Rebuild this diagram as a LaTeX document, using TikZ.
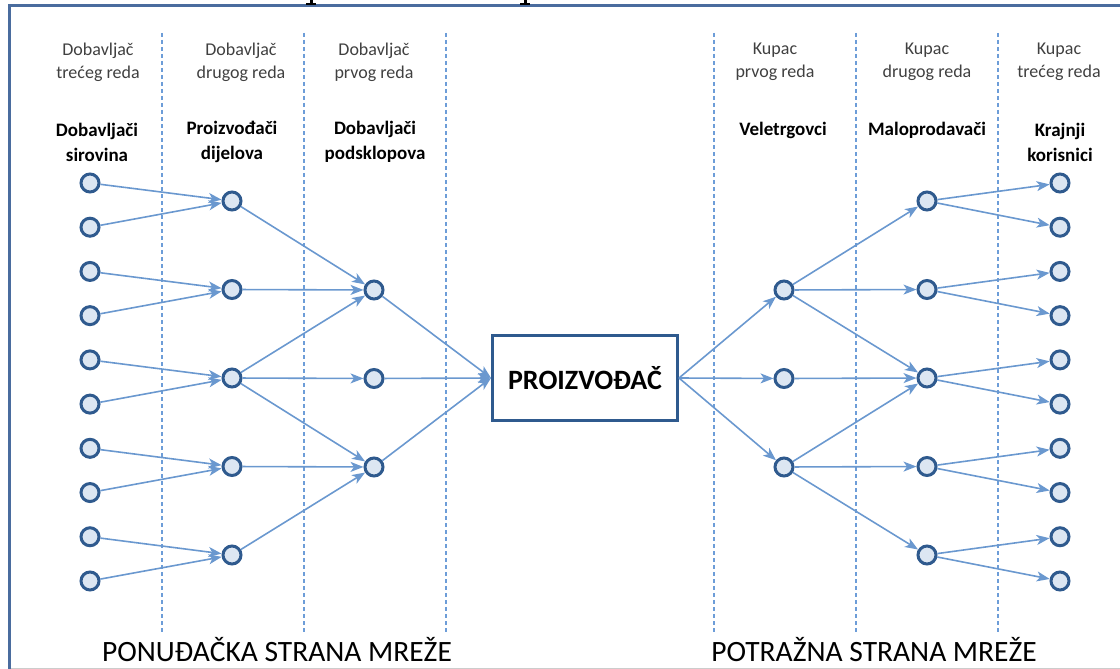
\documentclass[tikz,border=0pt]{standalone}
\usepackage{fontspec}
\setmainfont{Carlito}
\usetikzlibrary{arrows.meta}
\definecolor{nodeline}{HTML}{2F5A8E}
\definecolor{nodefill}{HTML}{DCE6F2}
\definecolor{arrowc}{HTML}{6A98CF}
\definecolor{dashc}{HTML}{6D9DD8}
\definecolor{framec}{HTML}{4A6C9E}
\definecolor{hdrc}{HTML}{404040}
\begin{document}
\begin{tikzpicture}[x=1pt,y=-1pt,
  dot/.style={circle,draw=nodeline,fill=nodefill,line width=3pt,minimum size=18pt,inner sep=0pt},
  link/.style={draw=arrowc,line width=1.6pt,-{Stealth[length=13pt,width=10pt,inset=3.5pt]}},
  sepline/.style={draw=dashc,line width=1.3pt,dash pattern=on 4pt off 3pt},
  hdr/.style={align=center,font=\fontsize{18}{23}\selectfont,text=hdrc,inner sep=0pt},
  lbl/.style={align=center,font=\fontsize{19}{25}\selectfont\bfseries,inner sep=0pt},
  side/.style={font=\fontsize{29.5}{30}\selectfont,anchor=base,inner sep=0pt,text depth=0pt},
  prod/.style={draw=nodeline,line width=3pt,fill=white,minimum width=185pt,minimum height=85pt,inner sep=0pt,font=\fontsize{28}{28}\selectfont\bfseries}
]
\useasboundingbox (0,0) rectangle (1120,669);
% frame
\draw[framec,line width=3pt] (9.5,669) -- (9.5,6) -- (1125,6);
\draw[black!20,line width=0.8pt] (11,668.5) -- (1120,668.5);
% title remnants
\fill[black] (309.8,0) rectangle (312.6,4);
\fill[black] (306,3) rectangle (316,4.6);
\fill[black] (523.8,0) rectangle (526.6,4);
\fill[black] (520,3) rectangle (530,4.6);
% separators
\foreach \xx in {162,304,446,714,856,998}
  \draw[sepline] (\xx,33) -- (\xx,633);
% headers
\node[hdr] (h1) at (98,62) {Dobavljač\\trećeg reda};
\node[hdr] (h2) at (241,62) {Dobavljač\\drugog reda};
\node[hdr] (h3) at (374,62) {Dobavljač\\prvog reda};
\node[hdr] (h4) at (775,62) {Kupac\\prvog reda};
\node[hdr] (h5) at (927,62) {Kupac\\drugog reda};
\node[hdr] (h6) at (1059,62) {Kupac\\trećeg reda};
\node[lbl] (l1) at (97,142) {Dobavljači\\sirovina};
\node[lbl] (l2) at (232,142) {Proizvođači\\dijelova};
\node[lbl] (l3) at (375,142) {Dobavljači\\podsklopova};
\node[lbl] (l4) at (783,130) {Veletrgovci};
\node[lbl] (l5) at (927,130) {Maloprodavači};
\node[lbl] (l6) at (1060,142) {Krajnji\\korisnici};
% nodes
\foreach \i in {1,...,10} {
  \node[dot] (a\i) at (90,{183+(\i-1)*44.22}) {};
  \node[dot] (f\i) at (1060,{183+(\i-1)*44.22}) {};
}
\foreach \i in {1,...,5} {
  \node[dot] (b\i) at (232,{201+(\i-1)*88.5}) {};
  \node[dot] (e\i) at (927,{201+(\i-1)*88.5}) {};
}
\foreach \i in {1,2,3} {
  \node[dot] (c\i) at (374,{290+(\i-1)*88.5}) {};
  \node[dot] (d\i) at (784,{290+(\i-1)*88.5}) {};
}
\node[prod] (p) at (585,378) {PROIZVOĐAČ};
% left links
\foreach \i [evaluate=\i as \j using {int(ceil(\i/2))}] in {1,...,10}
  \draw[link] (a\i) -- (b\j);
\draw[link] (b1) -- (c1);
\draw[link] (b2) -- (c1);
\draw[link] (b3) -- (c1);
\draw[link] (b3) -- (c2);
\draw[link] (b3) -- (c3);
\draw[link] (b4) -- (c3);
\draw[link] (b5) -- (c3);
\foreach \i in {1,2,3} {
  \draw[link] (c\i) -- (p.west);
  \draw[link] (p.east) -- (d\i);
}
% right links
\draw[link] (d1) -- (e1);
\draw[link] (d1) -- (e2);
\draw[link] (d1) -- (e3);
\draw[link] (d2) -- (e3);
\draw[link] (d3) -- (e3);
\draw[link] (d3) -- (e4);
\draw[link] (d3) -- (e5);
\foreach \i [evaluate=\i as \j using {int(ceil(\i/2))}] in {1,...,10}
  \draw[link] (e\j) -- (f\i);
% side captions
\node[side] (s1) at (277,661) {PONUĐAČKA STRANA MREŽE};
\node[side] (s2) at (874,661) {POTRAŽNA STRANA MREŽE};
\end{tikzpicture}
\end{document}
